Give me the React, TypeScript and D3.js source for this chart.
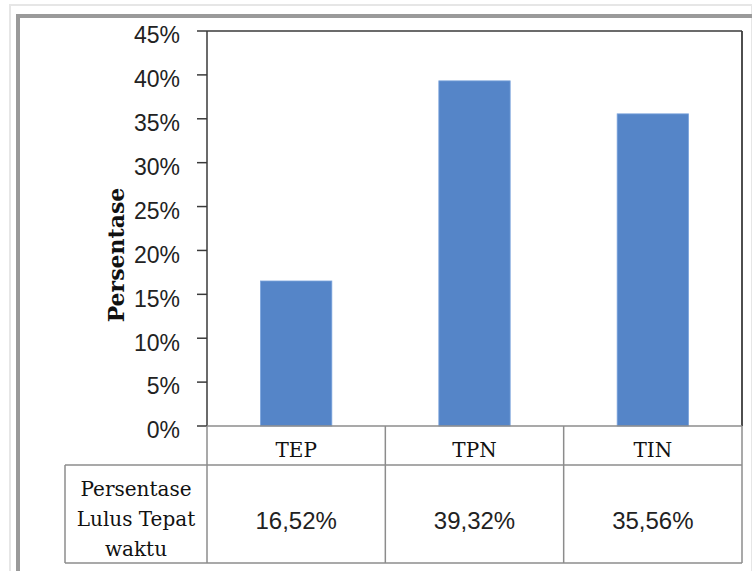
import React from "react";
import * as d3 from "d3";

const categories = ["TEP", "TPN", "TIN"];
const values = [16.52, 39.32, 35.56];
const valueLabels = ["16,52%", "39,32%", "35,56%"];
const yTicks = [0, 5, 10, 15, 20, 25, 30, 35, 40, 45];
const rowHeaderLines = ["Persentase", "Lulus Tepat", "waktu"];
const yTitle = "Persentase";

const W = 752;
const H = 571;
const plotL = 207;
const plotR = 742;
const plotT = 31;
const plotB = 426;
const row1B = 465;
const row2B = 563;
const tableL = 65;

export default function App() {
  const y = d3.scaleLinear().domain([0, 45]).range([plotB, plotT]);
  const x = d3
    .scaleBand<string>()
    .domain(categories)
    .range([plotL, plotR])
    .paddingInner(0.6)
    .paddingOuter(0.3);
  const col = d3.scaleBand<string>().domain(categories).range([plotL, plotR]);
  const sans = "'Liberation Sans', Arial, sans-serif";
  const serif = "'DejaVu Serif', 'Liberation Serif', serif";
  const grid = "#8c8c8c";
  const dark = "#3a3a3a";

  return (
    <svg
      width={W}
      height={H}
      style={{ position: "absolute", left: 0, top: 0, background: "#fff" }}
    >
      {/* outer frame */}
      <rect x={10} y={5} width={W - 10} height={H} fill="none" stroke="#e6e6e6" strokeWidth={2} />
      <rect x={18} y={16} width={W - 14} height={H} fill="none" stroke="#9a9a9a" strokeWidth={4} />

      {/* bars */}
      {categories.map((c, i) => (
        <rect
          key={c}
          x={x(c)}
          y={y(values[i])}
          width={x.bandwidth()}
          height={plotB - y(values[i])}
          fill="#5585c8"
          stroke="#7aa3dc"
          strokeWidth={0.8}
        />
      ))}

      {/* plot box */}
      <line x1={plotL} y1={plotT} x2={plotR} y2={plotT} stroke={dark} strokeWidth={1.5} />
      <line x1={plotR} y1={plotT} x2={plotR} y2={plotB} stroke={dark} strokeWidth={1.8} />
      <line x1={plotL} y1={plotT} x2={plotL} y2={plotB} stroke={dark} strokeWidth={1.5} />

      {/* y ticks */}
      {yTicks.map((t) => (
        <g key={t}>
          <line x1={plotL - 10} x2={plotL} y1={y(t)} y2={y(t)} stroke={dark} strokeWidth={1.5} />
          <text
            x={180}
            y={y(t) + 4}
            dy="0.36em"
            textAnchor="end"
            fontFamily={sans}
            fontSize={23}
            fill="#222"
          >
            {t}%
          </text>
        </g>
      ))}

      {/* y title */}
      <text
        transform={`translate(124,255) rotate(-90)`}
        textAnchor="middle"
        fontFamily={serif}
        fontWeight="bold"
        fontSize={22}
        fill="#111"
      >
        {yTitle}
      </text>

      {/* table */}
      <line x1={plotL} y1={plotB} x2={plotR} y2={plotB} stroke={grid} strokeWidth={1.5} />
      <line x1={tableL} y1={row1B} x2={plotR} y2={row1B} stroke={grid} strokeWidth={1.5} />
      <line x1={tableL} y1={row2B} x2={plotR} y2={row2B} stroke={grid} strokeWidth={1.5} />
      <line x1={tableL} y1={row1B} x2={tableL} y2={row2B} stroke={grid} strokeWidth={1.5} />
      <line x1={plotL} y1={plotB} x2={plotL} y2={row2B} stroke={grid} strokeWidth={1.5} />
      {categories.map((c) => (
        <line
          key={"v" + c}
          x1={(col(c) as number) + col.bandwidth()}
          x2={(col(c) as number) + col.bandwidth()}
          y1={plotB}
          y2={row2B}
          stroke={grid}
          strokeWidth={1.5}
        />
      ))}
      {categories.map((c, i) => (
        <g key={"t" + c}>
          <text
            x={(col(c) as number) + col.bandwidth() / 2}
            y={(plotB + row1B) / 2 + 4}
            dy="0.36em"
            textAnchor="middle"
            fontFamily={serif}
            fontSize={20}
            fill="#111"
          >
            {c}
          </text>
          <text
            x={(col(c) as number) + col.bandwidth() / 2}
            y={(row1B + row2B) / 2 + 6}
            dy="0.36em"
            textAnchor="middle"
            fontFamily={sans}
            fontSize={24}
            fill="#222"
          >
            {valueLabels[i]}
          </text>
        </g>
      ))}
      {rowHeaderLines.map((l, i) => (
        <text
          key={l}
          x={(tableL + plotL) / 2}
          y={489 + i * 30}
          dy="0.36em"
          textAnchor="middle"
          fontFamily={serif}
          fontSize={20}
          fill="#111"
        >
          {l}
        </text>
      ))}
    </svg>
  );
}
